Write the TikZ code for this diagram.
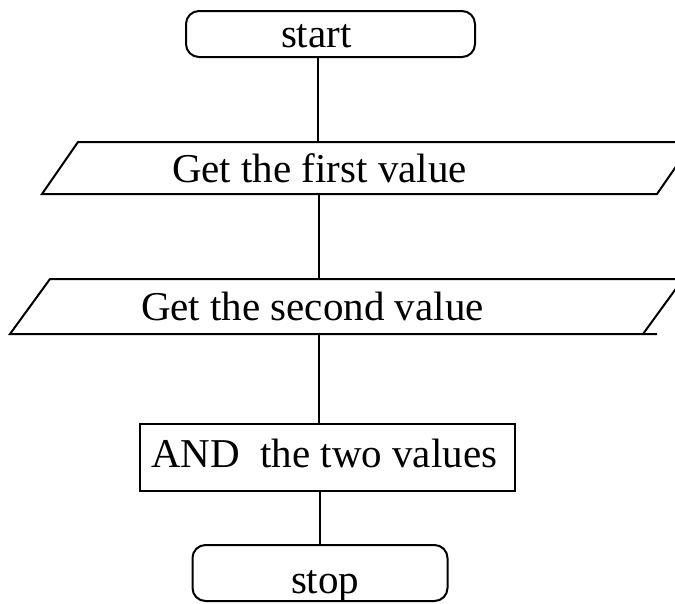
\documentclass[tikz,border=0pt]{standalone}
\usepackage{fontspec}
\setmainfont{Liberation Serif}
\begin{document}
\begin{tikzpicture}[x=1pt,y=-1pt,
  line width=2pt,
  term/.style={draw, rounded corners=13pt, inner sep=0pt},
  procbox/.style={draw, inner sep=0pt},
  lbl/.style={inner sep=0pt, anchor=base west, font=\fontsize{41}{49}\selectfont},
  flow/.style={draw, line width=2pt}]
\useasboundingbox (0,0) rectangle (675,603);
% start terminal
\node[term, minimum width=289pt, minimum height=46pt] (start) at (330.5,34) {};
\node[lbl] (starttxt) at (280,47) {start};
% input 1
\coordinate (a1) at (42,194);
\coordinate (b1) at (78,142);
\coordinate (c1) at (693,142);
\coordinate (d1) at (657,194);
\draw (a1) -- (b1) -- (c1) -- (d1) -- cycle;
\node[lbl] (in1) at (171,182) {Get the first value};
\coordinate (p1t) at (318,142);
\coordinate (p1b) at (319,194);
% input 2
\coordinate (a2) at (10,334);
\coordinate (b2) at (50,279);
\coordinate (c2) at (683,279);
\coordinate (d2) at (643,334);
\coordinate (e2) at (657,334);
\draw (e2) -- (a2) -- (b2) -- (c2) -- (d2);
\node[lbl] (in2) at (140,320) {Get the second value};
\coordinate (p2t) at (319,279);
\coordinate (p2b) at (319,334);
% process
\node[procbox, minimum width=375pt, minimum height=67pt] (proc) at (327.5,457.5) {};
\node[lbl] (proctxt) at (150,467) {AND\ \ the two values};
% stop terminal
\node[term, minimum width=255pt, minimum height=56pt] (stop) at (320,573) {};
\node[lbl] (stoptxt) at (290,593) {stop};
% connectors
\draw[flow] (start.south -| p1t) -- (p1t);
\draw[flow] (p1b) -- (p2t);
\draw[flow] (p2b) -- (proc.north -| p2b);
\draw[flow] (proc.south -| stop.north) -- (stop.north);
\end{tikzpicture}
\end{document}
